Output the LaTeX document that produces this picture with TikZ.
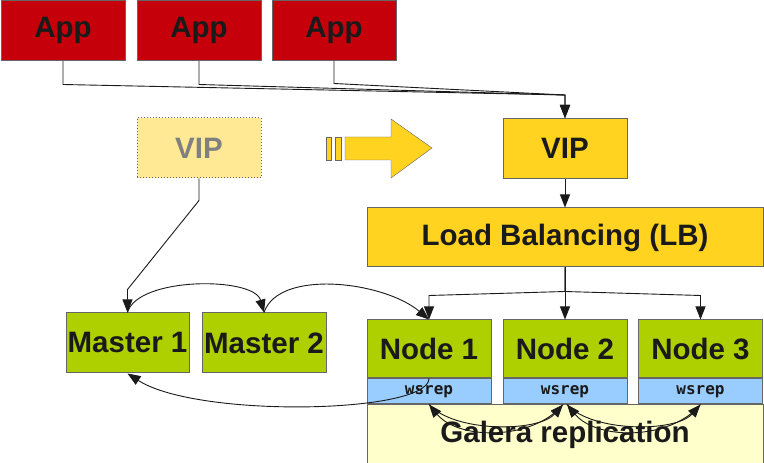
\documentclass[tikz,border=0pt]{standalone}
\usepackage{fontspec}
\setmainfont{Liberation Sans}
\newfontfamily\wsrepfont{DejaVu Sans Mono}
\usetikzlibrary{positioning,arrows.meta}
\definecolor{appred}{RGB}{197,0,11}
\definecolor{gold}{RGB}{255,211,32}
\definecolor{palegold}{RGB}{255,233,148}
\definecolor{green}{RGB}{174,207,0}
\definecolor{blue}{RGB}{153,204,255}
\definecolor{cream}{RGB}{255,255,204}
\definecolor{edge}{RGB}{102,102,102}
\definecolor{ink}{RGB}{26,26,26}

\begin{document}
\begin{tikzpicture}[x=1pt, y=1pt,
    box/.style={rectangle, draw=edge, line width=1pt, text=ink, font=\fontsize{29.5}{34}\selectfont\bfseries, minimum width=124pt, minimum height=60pt, inner sep=0pt},
    wsrepbox/.style={rectangle, draw=edge, line width=1pt, fill=blue, text=ink, font=\wsrepfont\bfseries\fontsize{16}{18}\selectfont, minimum width=124pt, minimum height=25pt, inner sep=0pt},
    arrow/.style={-{Triangle[length=13pt,width=10pt]}, line width=0.9pt, draw=ink}
]
    \useasboundingbox (0,0) rectangle (764,463);

    \node[box, fill=appred] (app1) at (63,432.5) {App};
    \node[box, fill=appred] (app2) at (199,432.5) {App};
    \node[box, fill=appred] (app3) at (334,432.5) {App};

    \node[box, fill=palegold, dotted, text=gray] (oldvip) at (199,315) {VIP};
    \node[box, fill=gold] (vip) at (565,314.5) {VIP};
    \node[box, fill=gold, minimum width=396pt, minimum height=59pt] (lb) at (565,225.5) {Load Balancing (LB)};

    \node[box, fill=green, minimum width=123pt] (m1) at (127.5,120) {Master 1};
    \node[box, fill=green] (m2) at (264,120) {Master 2};

    \node[box, fill=green, minimum height=58pt] (n1) at (429,114) {Node 1};
    \node[box, fill=green, minimum height=58pt] (n2) at (565,114) {Node 2};
    \node[box, fill=green, minimum height=58pt] (n3) at (700.5,114) {Node 3};
    \node[wsrepbox, below=0pt of n1] (w1) {wsrep};
    \node[wsrepbox, below=0pt of n2] (w2) {wsrep};
    \node[wsrepbox, below=0pt of n3] (w3) {wsrep};
    \node[box, fill=cream, minimum width=396pt, minimum height=59pt, below=0pt of w2] (galera) {Galera replication};

    % switch-over arrow
    \draw[edge, fill=gold] (345,303) -- (391,303) -- (391,285) -- (432,315) -- (391,344) -- (391,326) -- (345,326) -- cycle;
    \draw[edge, fill=gold] (326,303) rectangle (331,326);
    \draw[edge, fill=gold] (335,303) rectangle (341,326);

    \coordinate (join) at (565,368);
    \draw[arrow] (app1.south) -- ++(0,-23.5) -- (join) -- (vip.north);
    \draw[arrow] (app2.south) -- ++(0,-23.5) -- (join) -- (vip.north);
    \draw[arrow] (app3.south) -- ++(0,-22.5) -- (join) -- (vip.north);
    \draw[arrow] (vip) -- (lb);

    \draw[arrow] (lb.south) -- ++(0,-24) -- ([yshift=24pt]n1.north) -- (n1.north);
    \draw[arrow] (lb.south) -- (n2.north);
    \draw[arrow] (lb.south) -- ++(0,-24) -- ([yshift=24pt]n3.north) -- (n3.north);

    \draw[arrow] (oldvip.south) -- ++(0,-22) -- ([yshift=23pt]m1.north) -- (m1.north);
    \draw[arrow] (m1.north) .. controls +(10,36) and +(-10,36) .. (m2.north);
    \draw[arrow] (m2.north) .. controls +(15,44) and +(-45,38) .. (n1.north);
    \draw[arrow] (n1.south) .. controls +(0,-35) and +(70,-45) .. (m1.south);

    % replication between wsrep layers
    \draw[arrow] (w1.south) .. controls +(25,-28) and +(-25,-28) .. ([xshift=-2pt]w2.south);
    \draw[arrow] ([xshift=-2pt]w2.south) .. controls +(-30,-36) and +(30,-36) .. (w1.south);
    \draw[arrow] ([xshift=2pt]w2.south) .. controls +(25,-28) and +(-25,-28) .. (w3.south);
    \draw[arrow] (w3.south) .. controls +(-30,-36) and +(30,-36) .. ([xshift=2pt]w2.south);
\end{tikzpicture}
\end{document}
